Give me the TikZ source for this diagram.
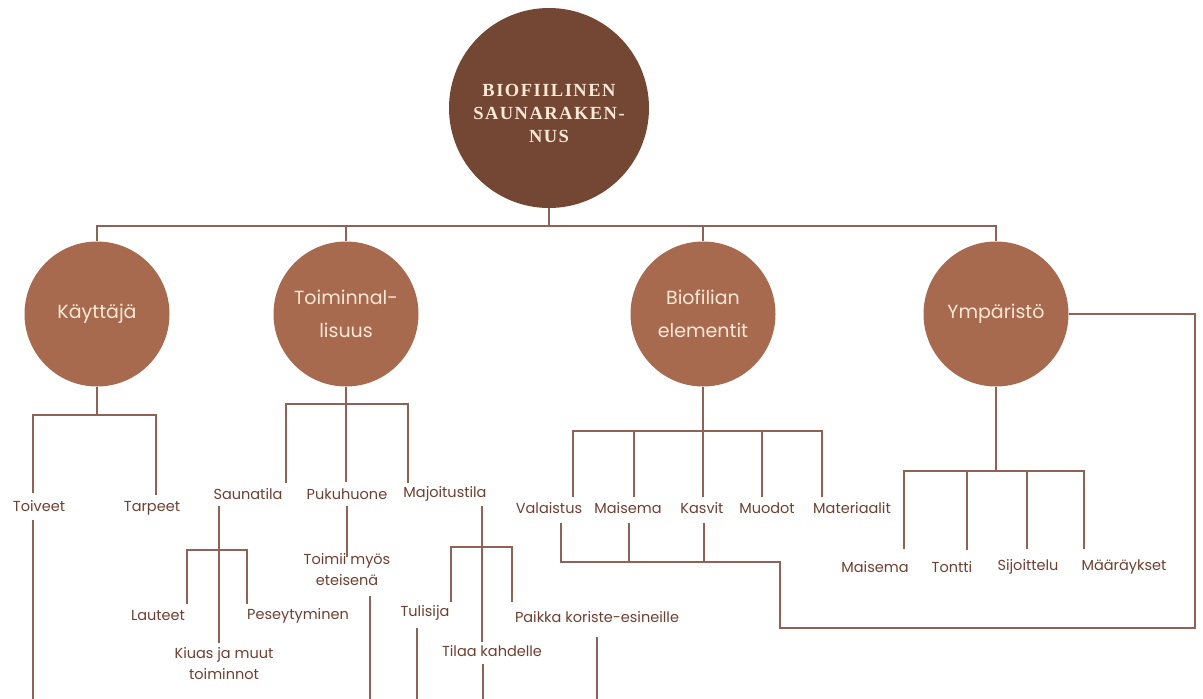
\documentclass[tikz,border=0pt]{standalone}
\usepackage{fontspec}
\setmainfont{Poppins}
\newfontfamily\titlefont[LetterSpace=8]{Liberation Serif}
\definecolor{rootfill}{HTML}{744634}
\definecolor{midfill}{HTML}{A86A4E}
\definecolor{linec}{HTML}{8E6254}
\definecolor{labelc}{HTML}{6E3F30}
\definecolor{cream}{HTML}{FBE9D6}
\tikzset{
  rootnode/.style={circle, fill=rootfill, minimum size=200pt, inner sep=0pt},
  roottext/.style={inner sep=0pt, text=cream, align=center, font=\titlefont\bfseries\fontsize{18.5}{23}\selectfont},
  midnode/.style={circle, fill=midfill, minimum size=145pt, inner sep=0pt, text=cream, align=center, font=\fontsize{19}{33}\selectfont},
  lbl/.style={inner sep=0pt, text=labelc, align=center, font=\fontsize{14.5}{21}\selectfont},
  conn/.style={draw=linec, line width=1.6pt}
}
\begin{document}
\begin{tikzpicture}[x=1pt,y=-1pt]
\useasboundingbox (0,0) rectangle (1203,699);
% main circles
\node[rootnode] (root) at (549,108) {};
\node[roottext] (roottitle) at (549,113) {BIOFIILINEN\\SAUNARAKEN-\\NUS};
\node[midnode] (kay) at (97,314) {Käyttäjä};
\node[midnode] (toim) at (346,314) {Toiminnal-\\lisuus};
\node[midnode] (bio) at (703,314) {Biofilian\\elementit};
\node[midnode] (ymp) at (996,314) {Ympäristö};
% labels
\node[lbl] (toiveet) at (39,506) {Toiveet};
\node[lbl] (tarpeet) at (152,508) {Tarpeet};
\node[lbl] (saunatila) at (248,494) {Saunatila};
\node[lbl] (pukuhuone) at (347,494) {Pukuhuone};
\node[lbl] (majoitus) at (445,494) {Majoitustila};
\node[lbl] (lauteet) at (158,616) {Lauteet};
\node[lbl] (peseyt) at (298,616) {Peseytyminen};
\node[lbl] (kiuas) at (224,664) {Kiuas ja muut\\toiminnot};
\node[lbl] (toimii) at (347,570) {Toimii myös\\eteisenä};
\node[lbl] (tulisija) at (425,613) {Tulisija};
\node[lbl] (paikka) at (597,617) {Paikka koriste-esineille};
\node[lbl] (tilaa) at (492,651) {Tilaa kahdelle};
\node[lbl] (valaistus) at (549,508) {Valaistus};
\node[lbl] (maisema) at (628,508) {Maisema};
\node[lbl] (kasvit) at (702,508) {Kasvit};
\node[lbl] (muodot) at (767,508) {Muodot};
\node[lbl] (materiaalit) at (852,508) {Materiaalit};
\node[lbl] (maisema2) at (875,567) {Maisema};
\node[lbl] (tontti) at (952,567) {Tontti};
\node[lbl] (sijoittelu) at (1028,567) {Sijoittelu};
\node[lbl] (maaraykset) at (1124,567) {Määräykset};
% top bus
\coordinate (bus0) at (549,226);
\draw[conn] (root.south) -- (bus0);
\draw[conn] (kay.north) |- (bus0) -| (ymp.north);
\draw[conn] (toim.north) -- (toim.north |- bus0);
\draw[conn] (bio.north) -- (bio.north |- bus0);
% Kayttaja
\coordinate (busk) at (97,415);
\draw[conn] (kay.south) -- (busk);
\draw[conn] (33,493) |- (busk) -| (156,495);
\draw[conn] (33,520) -- (33,699);
% Toiminnallisuus
\coordinate (bust) at (346,404);
\draw[conn] (toim.south) -- (bust) -- (346,482);
\draw[conn] (286,483) |- (bust) -| (408,483);
% Saunatila
\coordinate (buss) at (219,550);
\draw[conn] (219,506) -- (219,643);
\draw[conn] (187,604) |- (buss) -| (247,604);
% Pukuhuone
\draw[conn] (347,506) -- (347,557);
\draw[conn] (370,596) -- (370,699);
% Majoitustila
\coordinate (busm) at (482,547);
\draw[conn] (482,506) -- (482,642);
\draw[conn] (451,602) |- (busm) -| (512,602);
\draw[conn] (483,664) -- (483,699);
\draw[conn] (417,628) -- (417,699);
\draw[conn] (597,637) -- (597,699);
% Biofilia
\coordinate (busb) at (703,431);
\draw[conn] (bio.south) -- (busb) -- (703,497);
\draw[conn] (573,497) |- (busb) -| (822,497);
\draw[conn] (634,431) -- (634,497);
\draw[conn] (762,431) -- (762,497);
\coordinate (busb2) at (629,562);
\coordinate (corner) at (1195,314);
\draw[conn] (561,523) |- (busb2) -| (780,628) -| (corner) -- (ymp.east);
\draw[conn] (629,523) -- (busb2);
\draw[conn] (704,523) -- (704,562);
% Ymparisto
\coordinate (busy) at (996,471);
\draw[conn] (ymp.south) -- (busy);
\draw[conn] (904,549) |- (busy) -| (1084,549);
\draw[conn] (967,471) -- (967,550);
\draw[conn] (1027,471) -- (1027,549);
\end{tikzpicture}
\end{document}
